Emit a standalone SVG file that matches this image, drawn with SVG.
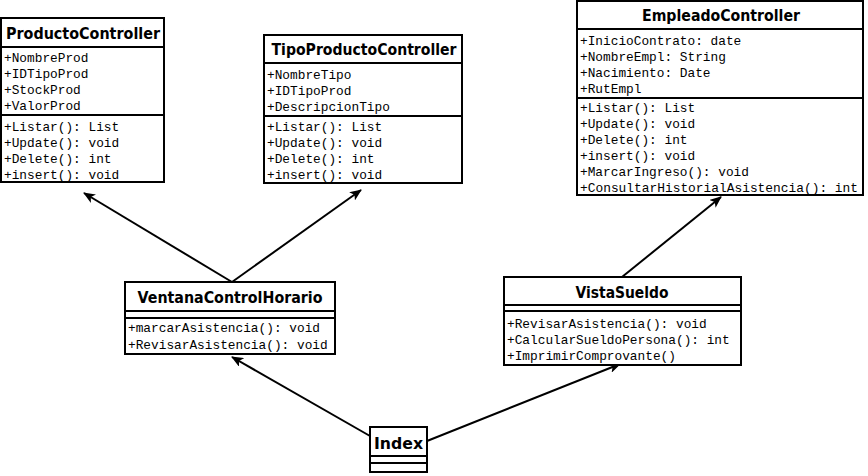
<svg xmlns="http://www.w3.org/2000/svg" width="868" height="476" viewBox="0 0 868 476">
<style>
.box{fill:#fff;stroke:#000;stroke-width:2}
.ln{stroke:#000;stroke-width:2}
.t{font-family:"DejaVu Sans","Liberation Sans",sans-serif;font-weight:bold;font-size:16px;text-anchor:middle;fill:#000}
.m{font-family:"Liberation Mono","Courier New",monospace;font-size:12.8px;fill:#000}
.c{stroke:#000;stroke-width:2;fill:none;marker-end:url(#ah)}
</style>
<defs>
<marker id="ah" viewBox="0 0 12 10" refX="11" refY="5" markerWidth="12" markerHeight="10" markerUnits="userSpaceOnUse" orient="auto">
<path d="M0,0 L12,5 L0,10 L3,5 Z" fill="#000"/>
</marker>
</defs>
<rect width="868" height="476" fill="#fff"/>
<g id="connectors">
<line class="c" x1="232" y1="282" x2="84" y2="193"/>
<line class="c" x1="232" y1="282" x2="361" y2="190"/>
<line class="c" x1="622" y1="277" x2="721" y2="197"/>
<line class="c" x1="370" y1="436" x2="232" y2="357"/>
<line class="c" x1="427" y1="441" x2="620" y2="364"/>
</g>
<g id="ProductoController">
<rect class="box" x="1" y="18" width="163" height="164"/>
<line class="ln" x1="1" y1="47" x2="164" y2="47"/>
<line class="ln" x1="1" y1="115" x2="164" y2="115"/>
<text class="t" x="83" y="39" textLength="154" lengthAdjust="spacingAndGlyphs">ProductoController</text>
<text class="m" x="4" y="62">+NombreProd</text>
<text class="m" x="4" y="78">+IDTipoProd</text>
<text class="m" x="4" y="94">+StockProd</text>
<text class="m" x="4" y="110">+ValorProd</text>
<text class="m" x="4" y="131">+Listar(): List</text>
<text class="m" x="4" y="147">+Update(): void</text>
<text class="m" x="4" y="163">+Delete(): int</text>
<text class="m" x="4" y="179">+insert(): void</text>
</g>
<g id="TipoProductoController">
<rect class="box" x="264" y="35" width="198" height="148"/>
<line class="ln" x1="264" y1="63" x2="462" y2="63"/>
<line class="ln" x1="264" y1="116" x2="462" y2="116"/>
<text class="t" x="364" y="55" textLength="185" lengthAdjust="spacingAndGlyphs">TipoProductoController</text>
<text class="m" x="267" y="79">+NombreTipo</text>
<text class="m" x="267" y="95">+IDTipoProd</text>
<text class="m" x="267" y="111">+DescripcionTipo</text>
<text class="m" x="267" y="131">+Listar(): List</text>
<text class="m" x="267" y="147">+Update(): void</text>
<text class="m" x="267" y="163">+Delete(): int</text>
<text class="m" x="267" y="179">+insert(): void</text>
</g>
<g id="EmpleadoController">
<rect class="box" x="577" y="1" width="286" height="194"/>
<line class="ln" x1="577" y1="29" x2="863" y2="29"/>
<line class="ln" x1="577" y1="98" x2="863" y2="98"/>
<text class="t" x="721" y="21" textLength="158" lengthAdjust="spacingAndGlyphs">EmpleadoController</text>
<text class="m" x="580" y="45">+InicioContrato: date</text>
<text class="m" x="580" y="61">+NombreEmpl: String</text>
<text class="m" x="580" y="77">+Nacimiento: Date</text>
<text class="m" x="580" y="93">+RutEmpl</text>
<text class="m" x="580" y="112">+Listar(): List</text>
<text class="m" x="580" y="128">+Update(): void</text>
<text class="m" x="580" y="144">+Delete(): int</text>
<text class="m" x="580" y="160">+insert(): void</text>
<text class="m" x="580" y="176">+MarcarIngreso(): void</text>
<text class="m" x="580" y="192" textLength="278" lengthAdjust="spacingAndGlyphs">+ConsultarHistorialAsistencia(): int</text>
</g>
<g id="VentanaControlHorario">
<rect class="box" x="125" y="282" width="210" height="72"/>
<line class="ln" x1="125" y1="311" x2="335" y2="311"/>
<line class="ln" x1="125" y1="318" x2="335" y2="318"/>
<text class="t" x="230" y="303" textLength="185" lengthAdjust="spacingAndGlyphs">VentanaControlHorario</text>
<text class="m" x="128" y="332">+marcarAsistencia(): void</text>
<text class="m" x="128" y="349">+RevisarAsistencia(): void</text>
</g>
<g id="VistaSueldo">
<rect class="box" x="504" y="277" width="237" height="88"/>
<line class="ln" x1="504" y1="305" x2="741" y2="305"/>
<line class="ln" x1="504" y1="311" x2="741" y2="311"/>
<text class="t" x="622" y="298" textLength="93" lengthAdjust="spacingAndGlyphs">VistaSueldo</text>
<text class="m" x="507" y="328">+RevisarAsistencia(): void</text>
<text class="m" x="507" y="344">+CalcularSueldoPersona(): int</text>
<text class="m" x="507" y="360">+ImprimirComprovante()</text>
</g>
<g id="Index">
<rect class="box" x="370" y="427" width="57" height="45"/>
<line class="ln" x1="370" y1="456" x2="427" y2="456"/>
<line class="ln" x1="370" y1="463" x2="427" y2="463"/>
<text class="t" x="398.5" y="449" textLength="49" lengthAdjust="spacingAndGlyphs">Index</text>
</g>
</svg>
